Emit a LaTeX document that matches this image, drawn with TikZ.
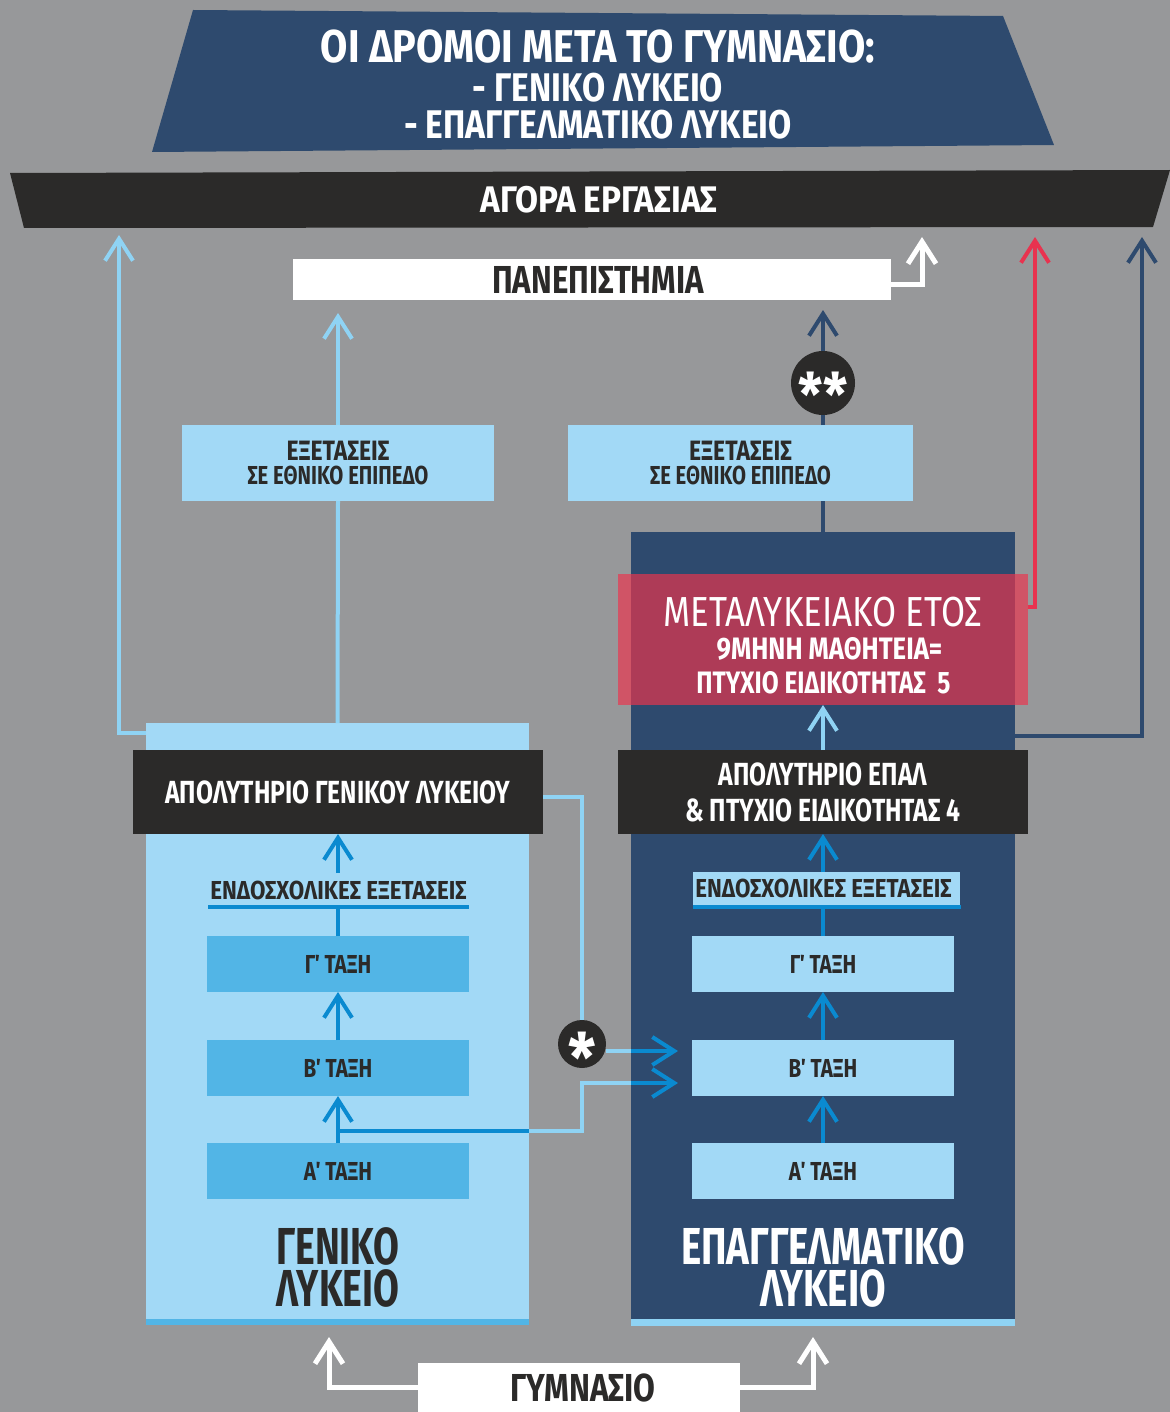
\documentclass[tikz,border=0pt]{standalone}
\usepackage{fontspec}
\setmainfont{Fira Sans}
\usetikzlibrary{arrows.meta,calc}
\definecolor{bgg}{HTML}{97989A}
\definecolor{navy}{HTML}{2E4A6E}
\definecolor{blk}{HTML}{2B2A29}
\definecolor{lb}{HTML}{A2D9F6}
\definecolor{mb}{HTML}{52B5E6}
\definecolor{ab}{HTML}{0A8AD0}
\definecolor{ll}{HTML}{8FD3F4}
\definecolor{rl}{HTML}{E8334F}
\definecolor{rf}{HTML}{ED344D}
\newcommand\fsz[3]{\fontsize{#1pt}{#2pt}\selectfont\addfontfeatures{FakeStretch=#3}}
\begin{document}
\begin{tikzpicture}[x=0.5pt,y=-0.5pt,
  bx/.style 2 args={rectangle,inner sep=0pt,outer sep=0pt,minimum width=#1*0.5pt,minimum height=#2*0.5pt},
  tipped/.style={-{Straight Barb[length=11pt,width=14pt]}},
  lbl/.style={draw=ll,line width=2pt},
  bll/.style={draw=ab,line width=2pt},
  nvl/.style={draw=navy,line width=2pt},
  wl/.style={draw=white,line width=2.5pt},
  tx/.style={inner sep=0pt,outer sep=0pt},
  cls/.style={text=blk,font=\bfseries\fsz{13}{15}{0.79}}]
\fill[bgg] (0,0) rectangle (1170,1412);
\useasboundingbox (0,0) rectangle (1170,1412);
% title banner
\fill[navy] (193,10) -- (1003,16) -- (1054,145) -- (152,152) -- cycle;
\node[tx,anchor=base,text=white,font=\bfseries\fsz{23}{28}{0.86}] (t1) at (598,63) {ΟΙ ΔΡΟΜΟΙ ΜΕΤΑ ΤΟ ΓΥΜΝΑΣΙΟ:};
\node[tx,anchor=base,text=white,font=\bfseries\fsz{20}{24}{0.84}] (t2) at (598,102) {- ΓΕΝΙΚΟ ΛΥΚΕΙΟ};
\node[tx,anchor=base,text=white,font=\bfseries\fsz{20}{24}{0.84}] (t3) at (598,139) {- ΕΠΑΓΓΕΛΜΑΤΙΚΟ ΛΥΚΕΙΟ};
% labour market bar
\fill[blk] (10,173) -- (1170,170) -- (1153,227) -- (24,228) -- cycle;
\node[tx,anchor=base,text=white,font=\bfseries\fsz{18.5}{22}{0.9}] (agora) at (599,213) {ΑΓΟΡΑ ΕΡΓΑΣΙΑΣ};
% big columns
\node[bx={383}{602},fill=lb] (gl) at (337.5,1024) {};
\fill[mb] ([yshift=3pt]gl.south west) rectangle (gl.south east);
\node[bx={384}{793},fill=navy] (epal) at (823,928.5) {};
\fill[ll] ([yshift=3pt]epal.south west) rectangle ([yshift=-0.5pt]epal.south east);
% post-lyceum year
\node[bx={410}{131},fill=rf,fill opacity=0.67] (red) at (823,639.5) {};
\node[tx,anchor=base,text=white,font=\fsz{21}{24}{0.83}] (r1) at (823,626) {ΜΕΤΑΛΥΚΕΙΑΚΟ ΕΤΟΣ};
\node[tx,anchor=base,text=white,font=\bfseries\fsz{15.5}{18}{0.83}] (r2) at (829.5,659) {9ΜΗΝΗ ΜΑΘΗΤΕΙΑ=};
\node[tx,anchor=base,text=white,font=\bfseries\fsz{15.5}{18}{0.79}] (r3) at (823.5,693) {ΠΤΥΧΙΟ ΕΙΔΙΚΟΤΗΤΑΣ~~5};
% university
\node[bx={598}{41},fill=white,text=blk,font=\bfseries\fsz{19.5}{22}{0.8}] (uni) at (592,279.5) {\hspace*{6pt}ΠΑΝΕΠΙΣΤΗΜΙΑ};
% national exams
\node[bx={312}{76},fill=lb,text=blk,align=center] (exL) at (338,463) {{\bfseries\fsz{14}{13}{0.82}ΕΞΕΤΑΣΕΙΣ}\\{\bfseries\fsz{13}{13}{0.78}ΣΕ ΕΘΝΙΚΟ ΕΠΙΠΕΔΟ}};
\node[bx={345}{76},fill=lb,text=blk,align=center] (exR) at (740.5,463) {{\bfseries\fsz{14}{13}{0.82}ΕΞΕΤΑΣΕΙΣ}\\{\bfseries\fsz{13}{13}{0.78}ΣΕ ΕΘΝΙΚΟ ΕΠΙΠΕΔΟ}};
\node[circle,fill=blk,minimum size=32pt,inner sep=0pt,text=white,font=\bfseries\fsz{30}{30}{0.9}] (ss) at (823,383) {\raisebox{-0.56em}[0pt][0pt]{**}};
% certificates
\node[bx={410}{84},fill=blk,text=white,font=\bfseries\fsz{16}{18}{0.77}] (apG) at (338,792) {ΑΠΟΛΥΤΗΡΙΟ ΓΕΝΙΚΟΥ ΛΥΚΕΙΟΥ};
\node[bx={410}{84},fill=blk,text=white,align=center,font=\bfseries\fsz{16}{18}{0.77}] (apE) at (823,792) {ΑΠΟΛΥΤΗΡΙΟ ΕΠΑΛ\\\& ΠΤΥΧΙΟ ΕΙΔΙΚΟΤΗΤΑΣ 4};
% general lyceum classes
\node[bx={261}{34},text=blk,font=\bfseries\fsz{13}{15}{0.86}] (endG) at (338.5,890) {ΕΝΔΟΣΧΟΛΙΚΕΣ ΕΞΕΤΑΣΕΙΣ};
\draw[ab,line width=2pt] (endG.south west) -- (endG.south east);
\node[bx={262}{56},fill=mb,cls] (g3) at (338,964) {Γ΄ ΤΑΞΗ};
\node[bx={262}{56},fill=mb,cls] (g2) at (338,1068) {Β΄ ΤΑΞΗ};
\node[bx={262}{56},fill=mb,cls] (g1) at (338,1171) {Α΄ ΤΑΞΗ};
\node[tx,text=blk,align=center,font=\bfseries\fsz{26}{21}{0.72}] (glT) at (338,1267) {ΓΕΝΙΚΟ\\ΛΥΚΕΙΟ};
% vocational lyceum classes
\node[bx={267}{33},fill=lb,text=blk,font=\bfseries\fsz{13}{15}{0.86}] (endE) at (826.5,888.5) {ΕΝΔΟΣΧΟΛΙΚΕΣ ΕΞΕΤΑΣΕΙΣ\hspace*{3pt}};
\draw[ab,line width=2pt] ([yshift=-1pt]endE.south west) -- ([xshift=0.5pt,yshift=-1pt]endE.south east);
\node[bx={262}{56},fill=lb,cls] (e3) at (823,964) {Γ΄ ΤΑΞΗ};
\node[bx={262}{56},fill=lb,cls] (e2) at (823,1068) {Β΄ ΤΑΞΗ};
\node[bx={262}{56},fill=lb,cls] (e1) at (823,1171) {Α΄ ΤΑΞΗ};
\node[tx,text=white,align=center,font=\bfseries\fsz{26}{21}{0.74}] (epT) at (823,1267) {ΕΠΑΓΓΕΛΜΑΤΙΚΟ\\ΛΥΚΕΙΟ};
% gymnasium
\node[bx={322}{49},fill=white,text=blk,font=\bfseries\fsz{19.5}{22}{0.81}] (gym) at (579,1387.5) {\hspace*{4pt}ΓΥΜΝΑΣΙΟ};
% free ends
\coordinate (aL) at (119,235);
\coordinate (aW) at (922,237);
\coordinate (aR) at (1035,237);
\coordinate (aN) at (1142,237);
\coordinate (uL) at (338,313);
\coordinate (uR) at (823,310);
\coordinate (bL) at (329,1337);
\coordinate (bR) at (813,1337);
% connectors
\draw[lbl,tipped] ([yshift=-5pt]gl.north west) -| (aL);
\draw[wl,tipped] ([yshift=-2.5pt]uni.east) -| (aW);
\draw[draw=rl,line width=2pt,tipped] ([yshift=-16.5pt]red.north east) -| (aR);
\draw[nvl,tipped] ([yshift=-102pt]epal.north east) -| (aN);
\draw[lbl] (gl.north) -- (exL.south);
\draw[lbl,tipped] (exL.north) -- (uL);
\draw[nvl] (epal.north) -- (epal.north |- exR.south);
\draw[nvl] (epal.north |- exR.north) -- (ss.south);
\draw[nvl,tipped] (ss.north) -- (uR);
\draw[lbl,tipped] (apE.north) -- (red.south);
\draw[bll,tipped] (endG.north -| g3.north) -- (apG.south -| g3.north);
\draw[bll] (g3.north) -- (endG.south -| g3.north);
\draw[bll,tipped] (g2.north) -- (g2.north |- g3.south);
\draw[bll,tipped] (g1.north) -- (g1.north |- g2.south);
\draw[bll,tipped] (endE.north -| e3.north) -- (apE.south -| e3.north);
\draw[bll] (e3.north) -- (endE.south -| e3.north);
\draw[bll,tipped] (e2.north) -- (e2.north |- e3.south);
\draw[bll,tipped] (e1.north) -- (e1.north |- e2.south);
% transfer to vocational lyceum
\node[circle,fill=blk,minimum size=24pt,inner sep=0pt,text=white,font=\bfseries\fsz{34}{34}{0.9}] (st) at (582,1044) {\raisebox{-0.56em}[0pt][0pt]{*}};
\draw[lbl] ([yshift=-2.5pt]apG.east) -| (st.north);
\coordinate (q1) at ([xshift=-7pt,yshift=8.5pt]e2.west);
\coordinate (q2) at ([xshift=-7pt,yshift=-7.5pt]e2.west);
\coordinate (jn) at ([yshift=6pt]g1.north);
\draw[lbl] (st.east |- q1) -- (epal.west |- q1);
\draw[bll,tipped] (epal.west |- q1) -- (q1);
\draw[bll] (jn) -- (gl.east |- jn);
\draw[lbl] (gl.east |- jn) -| (st.center |- q2) -- (epal.west |- q2);
\draw[bll,tipped] (epal.west |- q2) -- (q2);
% from gymnasium
\draw[wl,tipped] (gym.west) -| (bL);
\draw[wl,tipped] (gym.east) -| (bR);
\end{tikzpicture}
\end{document}
